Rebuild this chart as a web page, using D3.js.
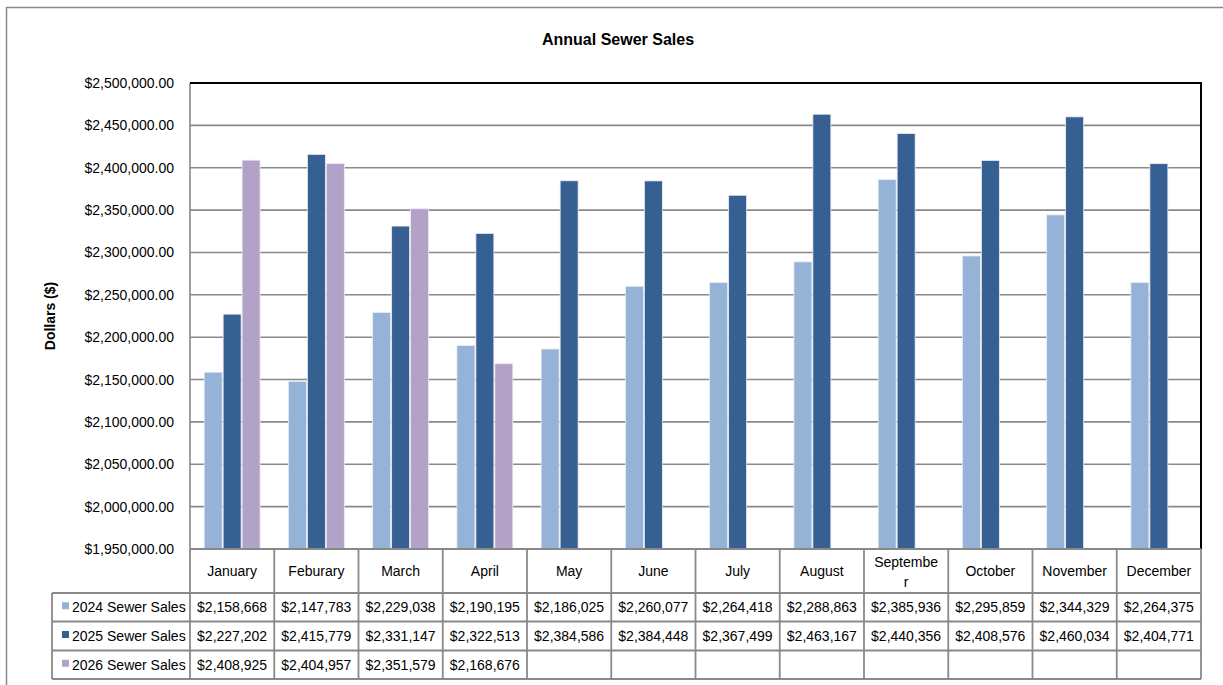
<!DOCTYPE html>
<html>
<head>
<meta charset="utf-8">
<script src="https://cdn.jsdelivr.net/npm/d3@7"></script>
<style>
  html, body { margin: 0; padding: 0; background: #fff; }
  svg { display: block; font-family: "Liberation Sans", Arial, sans-serif; }
</style>
</head>
<body>
<svg id="chart" width="1223" height="685"></svg>
<script>
const months = ["January", "Feburary", "March", "April", "May", "June", "July", "August", "September", "October", "November", "December"];
const seriesNames = ["2024 Sewer Sales", "2025 Sewer Sales", "2026 Sewer Sales"];
const sales2024 = [2158668, 2147783, 2229038, 2190195, 2186025, 2260077, 2264418, 2288863, 2385936, 2295859, 2344329, 2264375];
const sales2025 = [2227202, 2415779, 2331147, 2322513, 2384586, 2384448, 2367499, 2463167, 2440356, 2408576, 2460034, 2404771];
const sales2026 = [2408925, 2404957, 2351579, 2168676, null, null, null, null, null, null, null, null];
const seriesColors = ["#95b3d7", "#376092", "#b3a2c7"];
const yTicks = d3.range(1950000, 2500001, 50000);

const title = "Annual Sewer Sales";
const yLabel = "Dollars ($)";

const W = 1223, H = 685;
const plot = { left: 190, top: 83, right: 1201, bottom: 549 };
const tableRows = [549, 593, 621.5, 650.5, 679]; // header + 3 series rows
const legendLeft = 52;

const svg = d3.select("#chart");
const grid = "#898989";

// outer chart frame (runs off the right & bottom edges)
svg.append("path")
  .attr("d", `M6.5,${H + 5} V7.5 H${W + 5}`)
  .attr("fill", "none").attr("stroke", grid).attr("stroke-width", 1.5);

svg.append("text")
  .attr("x", 618).attr("y", 45)
  .attr("text-anchor", "middle")
  .attr("font-weight", "bold").attr("font-size", 16)
  .text(title);

const x0 = d3.scaleBand().domain(months).range([plot.left, plot.right]).padding(0);
const x1 = d3.scaleBand().domain(seriesNames).range([0, x0.bandwidth()]).paddingInner(0).paddingOuter(0.72);
const y = d3.scaleLinear().domain([1950000, 2500000]).range([plot.bottom, plot.top]);

// gridlines
svg.append("g")
  .selectAll("line")
  .data(yTicks.slice(1, -1))
  .join("line")
  .attr("x1", plot.left).attr("x2", plot.right)
  .attr("y1", d => y(d)).attr("y2", d => y(d))
  .attr("stroke", grid).attr("stroke-width", 1.6);

// y axis labels
const yAxis = svg.append("g")
  .attr("transform", `translate(${plot.left},0)`)
  .call(d3.axisLeft(y).tickValues(yTicks).tickFormat(d3.format("$,.2f")).tickSize(0).tickPadding(16));
yAxis.select(".domain").remove();
yAxis.selectAll("text").attr("font-size", 14).attr("fill", "#000").attr("font-family", "Liberation Sans, Arial, sans-serif");

svg.append("text")
  .attr("transform", `translate(55,${(plot.top + plot.bottom) / 2}) rotate(-90)`)
  .attr("text-anchor", "middle")
  .attr("font-weight", "bold").attr("font-size", 14)
  .text(yLabel);

// bars
const seriesData = [sales2024, sales2025, sales2026];
const barGroups = svg.append("g")
  .selectAll("g")
  .data(seriesData.map((vals, i) => ({ name: seriesNames[i], color: seriesColors[i], vals })))
  .join("g")
  .attr("fill", d => d.color);
barGroups.selectAll("rect")
  .data(d => d.vals.map((v, j) => ({ name: d.name, month: months[j], v })).filter(c => c.v != null))
  .join("rect")
  .attr("x", d => x0(d.month) + x1(d.name) + 0.5)
  .attr("width", x1.bandwidth() - 1)
  .attr("y", d => y(d.v))
  .attr("height", d => y.range()[0] - y(d.v))
  .attr("stroke", "#e8ecf4").attr("stroke-width", 0.8);

// plot frame: gray left axis & bottom, black top and right
svg.append("line")
  .attr("x1", plot.left).attr("x2", plot.left)
  .attr("y1", plot.top).attr("y2", plot.bottom)
  .attr("stroke", grid).attr("stroke-width", 1.6);
svg.append("path")
  .attr("d", `M${plot.left},${plot.top} H${plot.right} V${plot.bottom}`)
  .attr("fill", "none").attr("stroke", "#000").attr("stroke-width", 2);

// data table
const fmt = d3.format("$,.0f");
const table = svg.append("g").attr("stroke", grid).attr("stroke-width", 1.8);

// horizontal rules
table.selectAll("line.h")
  .data(tableRows)
  .join("line")
  .attr("class", "h")
  .attr("x1", (d, i) => i < 1 ? plot.left : legendLeft)
  .attr("x2", plot.right)
  .attr("y1", d => d).attr("y2", d => d);

// vertical rules
const colEdges = months.map(m => x0(m)).concat([plot.right]);
table.selectAll("line.v")
  .data(colEdges)
  .join("line")
  .attr("class", "v")
  .attr("x1", d => d).attr("x2", d => d)
  .attr("y1", tableRows[0]).attr("y2", tableRows[4]);
table.append("line")
  .attr("x1", legendLeft).attr("x2", legendLeft)
  .attr("y1", tableRows[1]).attr("y2", tableRows[4]);

// header labels, wrapping by characters like Excel does
const header = svg.append("g").attr("font-size", 14).attr("text-anchor", "middle");
months.forEach(m => {
  const cx = x0(m) + x0.bandwidth() / 2;
  const maxW = x0.bandwidth() - 18;
  const t = header.append("text").attr("x", cx).text(m);
  if (t.node().getComputedTextLength() > maxW) {
    let cut = m.length;
    while (cut > 1) {
      t.text(m.slice(0, cut));
      if (t.node().getComputedTextLength() <= maxW) break;
      cut--;
    }
    t.text(null);
    t.append("tspan").attr("x", cx).attr("y", 567).text(m.slice(0, cut));
    t.append("tspan").attr("x", cx).attr("y", 587).text(m.slice(cut));
  } else {
    t.attr("y", (tableRows[0] + tableRows[1]) / 2 + 5);
  }
});

// series rows
const rows = svg.append("g").attr("font-size", 14)
  .selectAll("g")
  .data(seriesData.map((vals, i) => ({ name: seriesNames[i], color: seriesColors[i], vals, i })))
  .join("g")
  .attr("transform", d => `translate(0,${(tableRows[d.i + 1] + tableRows[d.i + 2]) / 2 + 5})`);
rows.append("rect")
  .attr("x", 62).attr("y", -10).attr("width", 7).attr("height", 7)
  .attr("fill", d => d.color);
rows.append("text")
  .attr("x", 72)
  .text(d => d.name);
rows.selectAll("text.val")
  .data(d => d.vals.map((v, j) => ({ v, month: months[j] })).filter(c => c.v != null))
  .join("text")
  .attr("class", "val")
  .attr("x", d => x0(d.month) + x0.bandwidth() / 2)
  .attr("text-anchor", "middle")
  .text(d => fmt(d.v));
</script>
</body>
</html>
